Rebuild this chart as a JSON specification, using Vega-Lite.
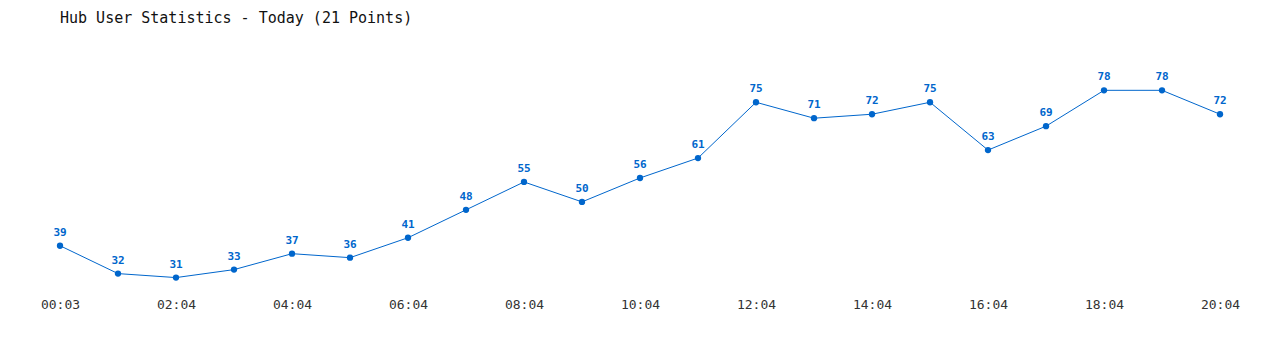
{
  "$schema": "https://vega.github.io/schema/vega-lite/v6.json",
  "autosize": "none",
  "width": 1160,
  "height": 259,
  "padding": {"left": 60, "top": 42.5, "right": 60, "bottom": 48},
  "background": "white",
  "title": {
    "text": "Hub User Statistics - Today (21 Points)",
    "anchor": "start",
    "frame": "group",
    "font": "DejaVu Sans Mono",
    "fontSize": 15,
    "fontWeight": "normal",
    "color": "#111111",
    "offset": 17
  },
  "config": {"view": {"stroke": null}},
  "data": {
    "values": [
      {"time": "00:03", "users": 39},
      {"time": "01:04", "users": 32},
      {"time": "02:04", "users": 31},
      {"time": "03:04", "users": 33},
      {"time": "04:04", "users": 37},
      {"time": "05:04", "users": 36},
      {"time": "06:04", "users": 41},
      {"time": "07:04", "users": 48},
      {"time": "08:04", "users": 55},
      {"time": "09:04", "users": 50},
      {"time": "10:04", "users": 56},
      {"time": "11:04", "users": 61},
      {"time": "12:04", "users": 75},
      {"time": "13:04", "users": 71},
      {"time": "14:04", "users": 72},
      {"time": "15:04", "users": 75},
      {"time": "16:04", "users": 63},
      {"time": "17:04", "users": 69},
      {"time": "18:04", "users": 78},
      {"time": "19:04", "users": 78},
      {"time": "20:04", "users": 72}
    ]
  },
  "encoding": {
    "x": {
      "field": "time",
      "type": "ordinal",
      "sort": null,
      "scale": {"type": "point", "padding": 0},
      "axis": {
        "title": null,
        "domain": false,
        "ticks": false,
        "grid": false,
        "labelAngle": 0,
        "labelFont": "DejaVu Sans Mono",
        "labelFontSize": 13,
        "labelColor": "#333333",
        "labelPadding": -3,
        "values": ["00:03", "02:04", "04:04", "06:04", "08:04", "10:04", "12:04", "14:04", "16:04", "18:04", "20:04"]
      }
    },
    "y": {
      "field": "users",
      "type": "quantitative",
      "scale": {"domain": [25, 90], "nice": false, "zero": false},
      "axis": null
    }
  },
  "layer": [
    {"mark": {"type": "line", "color": "#0066cc", "strokeWidth": 1}},
    {"mark": {"type": "circle", "color": "#0066cc", "opacity": 1, "size": 40}},
    {
      "mark": {
        "type": "text",
        "color": "#0066cc",
        "font": "DejaVu Sans Mono",
        "fontSize": 11,
        "fontWeight": "bold",
        "dy": -13
      },
      "encoding": {"text": {"field": "users", "type": "quantitative"}}
    }
  ]
}
